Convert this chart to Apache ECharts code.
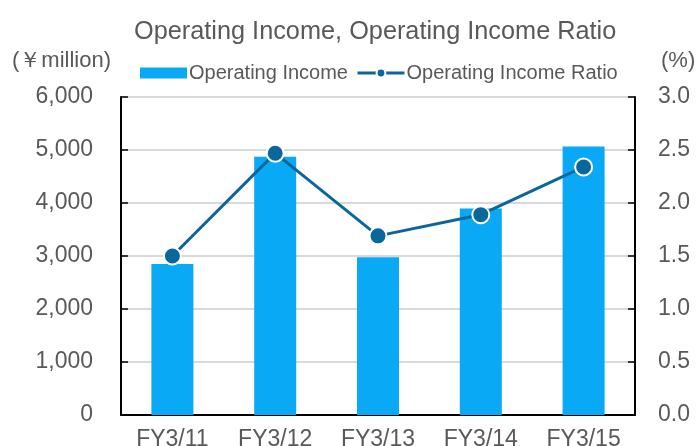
<!DOCTYPE html>
<html>
<head>
<meta charset="utf-8">
<script src="https://cdn.jsdelivr.net/npm/echarts@6/dist/echarts.min.js"></script>
<style>html,body{margin:0;padding:0;background:#fff}#c{width:699px;height:446px}</style>
</head>
<body>
<div id="c"></div>
<script>
var categories = ['FY3/11', 'FY3/12', 'FY3/13', 'FY3/14', 'FY3/15'];
var operatingIncome = [2850, 4875, 2975, 3895, 5065];
var operatingIncomeRatio = [1.50, 2.47, 1.69, 1.89, 2.34];
var leftTicks = [0, 1000, 2000, 3000, 4000, 5000, 6000];
var rightTicks = [0, 0.5, 1.0, 1.5, 2.0, 2.5, 3.0];

var txt = '#595959';
var font = 'Liberation Sans, Arial, sans-serif';
var chart = echarts.init(document.getElementById('c'));
chart.setOption({
  animation: false,
  textStyle: { fontFamily: font },
  title: {
    text: 'Operating Income, Operating Income Ratio',
    left: 129, top: 15,
    textStyle: { color: txt, fontSize: 25.3, fontWeight: 'normal', fontFamily: font }
  },
  legend: {
    left: 135, top: 58,
    itemWidth: 47, itemHeight: 11, itemGap: 8,
    textStyle: { color: txt, fontSize: 20, fontFamily: font, padding: [0, 0, 0, -3] },
    data: [
      { name: 'Operating Income', icon: 'rect' },
      { name: 'Operating Income Ratio', lineStyle: { width: 3 } }
    ]
  },
  graphic: [
    { type: 'text', left: 12, top: 50, style: { text: '(￥million)', fill: txt, font: '22px ' + font } },
    { type: 'text', left: 661, top: 50, style: { text: '(%)', fill: txt, font: '22px ' + font } }
  ],
  grid: { left: 121, right: 64, top: 97, bottom: 31, containLabel: false, outerBoundsMode: 'none' },
  xAxis: {
    type: 'category', data: categories, boundaryGap: true,
    axisLine: { lineStyle: { color: '#000', width: 2 } },
    axisTick: { inside: true, length: 7, lineStyle: { color: '#000', width: 1.5 } },
    axisLabel: { color: txt, fontSize: 23, margin: 13, fontFamily: font }
  },
  yAxis: [
    {
      type: 'value', min: leftTicks[0], max: leftTicks[leftTicks.length - 1], interval: 1000,
      axisLine: { show: true, lineStyle: { color: '#000', width: 2 } },
      axisTick: { show: true, inside: true, length: 7, lineStyle: { color: '#000', width: 1.5 } },
      axisLabel: { color: txt, fontSize: 23, margin: 28, fontFamily: font,
        formatter: function (v) { return v.toLocaleString('en-US'); } },
      splitLine: { show: true, lineStyle: { color: '#d9d9d9', width: 2 } }
    },
    {
      type: 'value', min: rightTicks[0], max: rightTicks[rightTicks.length - 1], interval: 0.5,
      axisLine: { show: true, lineStyle: { color: '#000', width: 2 } },
      axisTick: { show: true, inside: true, length: 7, lineStyle: { color: '#000', width: 1.5 } },
      axisLabel: { color: txt, fontSize: 23, margin: 23, fontFamily: font,
        formatter: function (v) { return v.toFixed(1); } },
      splitLine: { show: false }
    }
  ],
  series: [
    {
      name: 'Operating Income', type: 'bar', data: operatingIncome,
      barWidth: 42, itemStyle: { color: '#0aa9f5' }
    },
    {
      name: 'Operating Income Ratio', type: 'line', yAxisIndex: 1, data: operatingIncomeRatio,
      symbol: 'circle', symbolSize: 17,
      lineStyle: { color: '#0a679c', width: 3 },
      itemStyle: { color: '#0a679c', borderColor: '#fff', borderWidth: 2 }
    }
  ]
});
</script>
</body>
</html>
